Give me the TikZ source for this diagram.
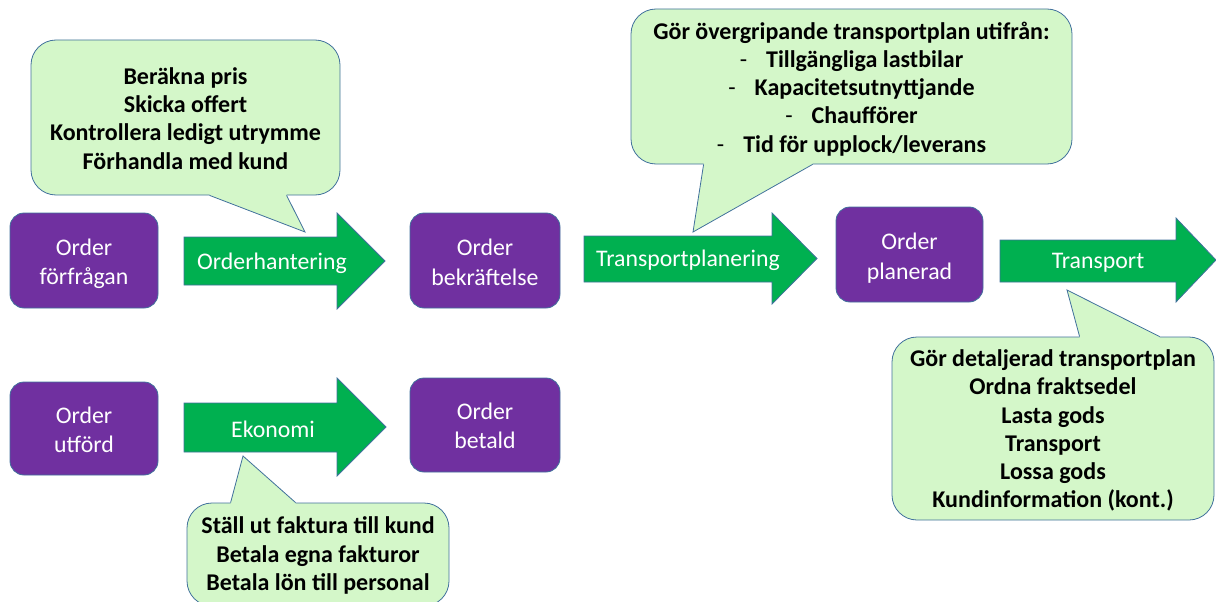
\documentclass[tikz,border=0pt]{standalone}
\usepackage{fontspec}
\setmainfont{Carlito}
\usetikzlibrary{calc}
\definecolor{boxpurple}{HTML}{7030A0}
\definecolor{edgeblue}{HTML}{41719C}
\definecolor{arrowgreen}{HTML}{00B050}
\definecolor{notegreen}{HTML}{D4F7C9}

% centred block of lines, set a little lower than its natural box
\newcommand{\lines}[2][2pt]{\raisebox{-#1}[\height][\depth]{\begin{tabular}{@{}c@{}}#2\end{tabular}}}

% speech-bubble tail: base left, tip, base right, shift back into the bubble
\newcommand{\notetail}[4]{%
  \fill[notegreen] ($(#1)+(0,#4)$) -- (#1) -- (#2) -- (#3) -- ($(#3)+(0,#4)$) -- cycle;
  \draw[noteedge] (#1) -- (#2) -- (#3);
}

\begin{document}
\begin{tikzpicture}[x=1pt,y=-1pt,
  stage/.style={draw=edgeblue, line width=0.8pt, fill=boxpurple,
    rounded corners=14pt, text=white, inner sep=0pt,
    font=\fontsize{23.8}{29.5}\selectfont},
  flow/.style={draw=edgeblue, line width=0.8pt, fill=arrowgreen},
  flowlabel/.style={text=white, inner sep=0pt,
    font=\fontsize{23.8}{28.5}\selectfont},
  note/.style={draw=edgeblue, line width=0.8pt, fill=notegreen,
    rounded corners=25pt, inner sep=0pt,
    font=\fontsize{24}{28.3}\selectfont\bfseries},
  noteedge/.style={draw=edgeblue, line width=0.8pt, line join=miter}]
\useasboundingbox (0,0) rectangle (1216,602);

% order states
\node[stage, minimum width=148pt, minimum height=95pt] (req) at (84,260.5) {\lines[3.5pt]{Order\\förfrågan}};
\node[stage, minimum width=150pt, minimum height=95pt] (conf) at (485,260.5) {\lines[4pt]{Order\\bekräftelse}};
\node[stage, minimum width=147pt, minimum height=95pt] (plan) at (909.5,254.5) {\lines[4pt]{Order\\planerad}};
\node[stage, minimum width=148pt, minimum height=93pt] (done) at (84,428.5) {\lines[3.5pt]{Order\\utförd}};
\node[stage, minimum width=150pt, minimum height=94pt] (paid) at (485,425) {\lines[3pt]{Order\\betald}};

% process arrows
\filldraw[flow] (184,237) -- (337,237) -- (337,213) -- (385,261) -- (337,309) -- (337,285) -- (184,285) -- cycle;
\node[flowlabel] (a1) at (272,263) {Orderhantering};

\filldraw[flow] (584,236) -- (772,236) -- (772,213) -- (817,258.5) -- (772,304) -- (772,282) -- (584,282) -- cycle;
\node[flowlabel] (a2) at (688,260) {Transportplanering};

\filldraw[flow] (1000,240) -- (1176,240) -- (1176,218) -- (1216,260) -- (1176,302) -- (1176,282) -- (1000,282) -- cycle;
\node[flowlabel] (a3) at (1098,263) {Transport};

\filldraw[flow] (184,403) -- (337,403) -- (337,378) -- (386,427) -- (337,476) -- (337,452) -- (184,452) -- cycle;
\node[flowlabel] (a4) at (273,429) {Ekonomi};

% speech bubbles
\node[note, minimum width=309pt, minimum height=155pt] (n1) at (185.5,117.5)
  {\lines[3.5pt]{Beräkna pris\\Skicka offert\\Kontrollera ledigt utrymme\\Förhandla med kund}};
\coordinate (n1tip) at (305,232);
\notetail{$(n1.south west)+(179,0)$}{n1tip}{$(n1.south west)+(256,0)$}{-2}

\node[note, minimum width=441pt, minimum height=155pt] (n2) at (851.5,86.5)
  {\lines[3.5pt]{Gör övergripande transportplan utifrån:\\
   {\mdseries -}\hspace{19pt}Tillgängliga lastbilar\\
   {\mdseries -}\hspace{19pt}Kapacitetsutnyttjande\\
   {\mdseries -}\hspace{19pt}Chaufförer\\
   {\mdseries -}\hspace{19pt}Tid för upplock/leverans}};
\coordinate (n2tip) at (693,232);
\notetail{$(n2.south west)+(73,0)$}{n2tip}{$(n2.south west)+(182,0)$}{-2}

\node[note, minimum width=262pt, minimum height=103pt] (n3) at (318,554.5)
  {\lines[2pt]{Ställ ut faktura till kund\\Betala egna fakturor\\Betala lön till personal}};
\coordinate (n3tip) at (243,456);
\notetail{$(n3.north west)+(44,0)$}{n3tip}{$(n3.north west)+(109,0)$}{2}

\node[note, minimum width=322pt, minimum height=183pt] (n4) at (1053,428.5)
  {\lines[3pt]{Gör detaljerad transportplan\\Ordna fraktsedel\\Lasta gods\\Transport\\Lossa gods\\Kundinformation (kont.)}};
\coordinate (n4tip) at (1067,290);
\notetail{$(n4.north west)+(188,0)$}{n4tip}{$(n4.north west)+(268,0)$}{2}

\end{tikzpicture}
\end{document}
